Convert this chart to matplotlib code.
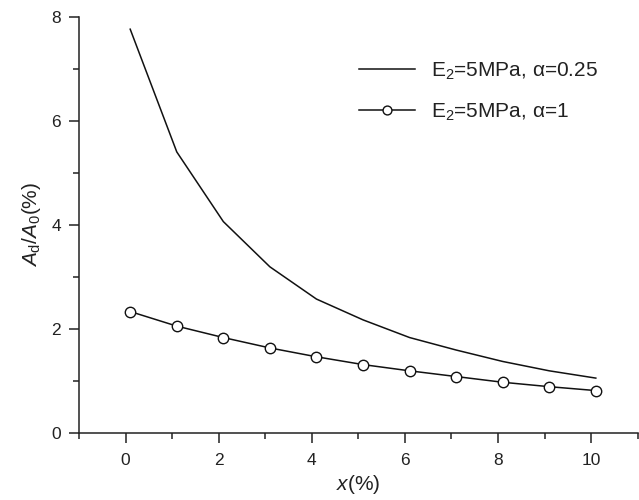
import numpy as np
import matplotlib.pyplot as plt
from matplotlib.ticker import MultipleLocator

plt.rcParams['font.family'] = ['Liberation Sans', 'DejaVu Sans']
plt.rcParams['mathtext.fontset'] = 'custom'
plt.rcParams['mathtext.rm'] = 'Liberation Sans'
plt.rcParams['mathtext.it'] = 'Liberation Sans:italic'

# strain x (%)
x = [0.1, 1.1, 2.1, 3.1, 4.1, 5.1, 6.1, 7.1, 8.1, 9.1, 10.1]
# Ad/A0 (%)
ad_a025 = [7.76, 5.40, 4.06, 3.19, 2.57, 2.17, 1.83, 1.59, 1.37, 1.19, 1.05]
ad_a1 = [2.33, 2.05, 1.83, 1.63, 1.46, 1.31, 1.19, 1.08, 0.97, 0.885, 0.81]

fig = plt.figure(figsize=(6.39, 5.0), dpi=100)
ax = fig.add_axes([0.1236, 0.1346, 0.8744, 0.832])

ax.plot(x, ad_a025, color='#111111', lw=1.1,
        label='E$_2$=5MPa, α=0.25')
ax.plot(x, ad_a1, color='#111111', lw=1.1, marker='o', ms=7.5,
        mfc='white', mec='#111111', mew=1.0,
        label='E$_2$=5MPa, α=1')

ax.set_xlim(-1, 11)
ax.set_ylim(0, 8)
ax.xaxis.set_major_locator(MultipleLocator(2))
ax.xaxis.set_minor_locator(MultipleLocator(1))
ax.yaxis.set_major_locator(MultipleLocator(2))
ax.yaxis.set_minor_locator(MultipleLocator(1))
ax.tick_params(which='major', direction='out', length=7, width=1.1,
               labelsize=12.5, colors='#222222')
ax.tick_params(which='minor', direction='out', length=4, width=1.1,
               colors='#222222')
ax.tick_params(axis='x', which='major', pad=7.5)
ax.tick_params(axis='y', which='major', pad=6)

for s in ['top', 'right']:
    ax.spines[s].set_visible(False)
for s in ['left', 'bottom']:
    ax.spines[s].set_linewidth(1.1)
    ax.spines[s].set_color('#222222')

ax.set_xlabel('$x$(%)', fontsize=15, color='#222222', labelpad=4)
ax.set_ylabel('$A_\\mathrm{d}$/$A_\\mathrm{0}$(%)', fontsize=15,
              color='#222222', labelpad=6)

ax.legend(loc='upper right', bbox_to_anchor=(0.962, 0.94), frameon=False,
          fontsize=15, handlelength=2.7, handletextpad=0.75,
          labelspacing=0.95, markerscale=0.85, labelcolor='#222222')

fig.savefig('out.png', dpi=100)
